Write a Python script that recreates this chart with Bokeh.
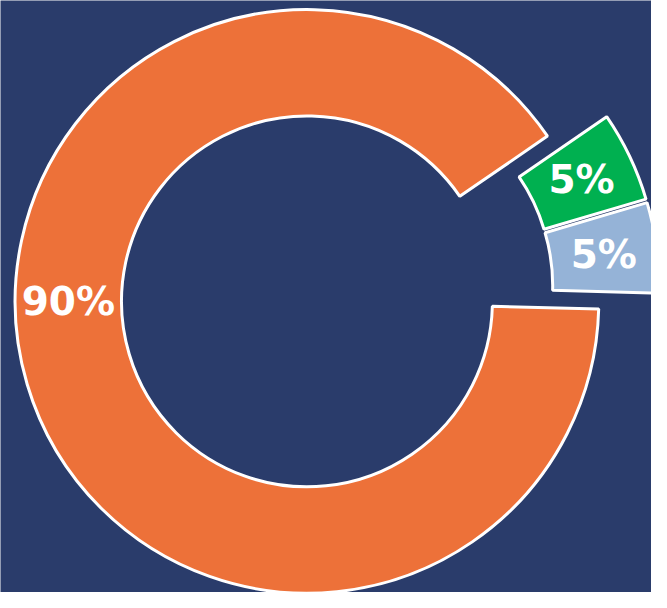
import numpy as np
from bokeh.plotting import figure
from bokeh.models import Range1d, ColumnDataSource
from bokeh.embed import file_html
from bokeh.resources import INLINE
from bokeh.core.properties import value

# ---- data ----
segments = ["Segment B", "Segment C", "Segment A"]
shares = [5, 5, 90]
labels = ["5%", "5%", "90%"]
colors = ["#95B3D7", "#00B050", "#ED7139"]
exploded = [True, True, False]

# ---- styling / layout ----
BG = "#2A3C6B"
W, H = 667, 608
cx, cy = 314.0, 299.0
r_in, r_out = 190.0, 299.0
start_deg = -1.5
group_explode = 52.0   # whole exploded group pulled out along its bisector
slice_explode = 12.0   # each exploded slice pulled a bit further along its own bisector
label_angle_override = [None, None, 180.0]

fr = np.array(shares, dtype=float) / sum(shares)
ends = np.deg2rad(start_deg) + np.cumsum(fr) * 2 * np.pi
starts = ends - fr * 2 * np.pi
ex_idx = [i for i, e in enumerate(exploded) if e]
group_mid = (starts[ex_idx[0]] + ends[ex_idx[-1]]) / 2

xs, ys, lx, ly = [], [], [], []
r_mid = (r_in + r_out) / 2
for i in range(len(shares)):
    mid = (starts[i] + ends[i]) / 2
    if exploded[i]:
        x0 = cx + group_explode * np.cos(group_mid) + slice_explode * np.cos(mid)
        y0 = cy + group_explode * np.sin(group_mid) + slice_explode * np.sin(mid)
    else:
        x0, y0 = cx, cy
    xs.append(x0)
    ys.append(y0)
    a = mid
    if label_angle_override[i] is not None:
        a = np.deg2rad(label_angle_override[i])
    lx.append(x0 + r_mid * np.cos(a))
    ly.append(y0 + r_mid * np.sin(a))

src = ColumnDataSource(dict(x=xs, y=ys, start=list(starts), end=list(ends),
                            color=colors, seg=segments, label=labels,
                            lx=lx, ly=ly))

p = figure(width=651, height=592, x_range=Range1d(0, W), y_range=Range1d(0, H),
           output_backend="svg", toolbar_location=None, min_border=0)
p.axis.visible = False
p.grid.visible = False
p.outline_line_color = None
p.background_fill_color = BG
p.border_fill_color = BG

p.annular_wedge(x="x", y="y", inner_radius=r_in, outer_radius=r_out,
                start_angle="start", end_angle="end", fill_color="color",
                line_color="white", line_width=3, source=src)

p.text(x="lx", y="ly", text="label", source=src, text_color="white",
       text_font=value("DejaVu Sans"), text_font_style="bold",
       text_font_size="39px", text_align="center", text_baseline="middle")

open("out.html", "w").write(file_html(p, INLINE))
